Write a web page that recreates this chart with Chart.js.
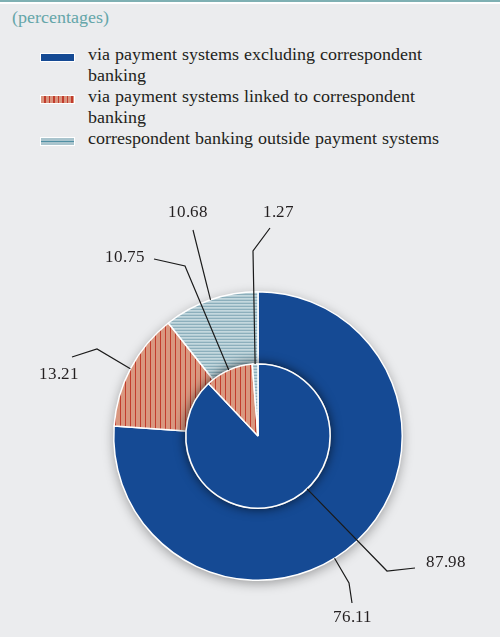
<!DOCTYPE html>
<html>
<head>
<meta charset="utf-8">
<style>
  @font-face { font-family: "LabelSerif"; src: local("Liberation Serif"), local("LiberationSerif"), local("Times New Roman"), local("Tinos"); }
  html, body { margin: 0; padding: 0; }
  body {
    width: 500px; height: 637px; position: relative; overflow: hidden;
    background: #ebecee;
    color: #231f20;
    font-family: "LabelSerif", "Liberation Serif", serif;
  }
  #topline { position: absolute; left: 0; top: 0; width: 500px; height: 2px; background: #7fb0b3; border-bottom: 2px solid #ffffff; }
  #title { position: absolute; left: 12px; top: 7px; font-size: 17.5px; color: #65a6a9; }
  #legend { position: absolute; left: 0; top: 44px; width: 500px; }
  .row { position: relative; padding-left: 88px; font-size: 17.5px; line-height: 21px; }
  .swatch { position: absolute; left: 40px; top: 9px; width: 33px; height: 7px; border: 1px solid #ffffff; box-sizing: content-box; }
  .s0 { background: #154a94; }
  .s1 { background: repeating-linear-gradient(90deg, #d9957f 0 3px, #c13b2c 3px 4.5px); }
  .s2 { background: linear-gradient(180deg, #a9c4cd 0 3px, #4f8fa3 3px 4px, #a9c4cd 4px); }
  #wrap { position: absolute; left: 0; top: 170px; width: 500px; height: 467px; }
</style>
</head>
<body>
<div id="topline"></div>
<div id="title" style="font-family: LabelSerif, 'Liberation Serif', serif !important">(percentages)</div>
<div id="legend"></div>
<div id="wrap"><canvas id="pieChart"></canvas></div>
<script src="https://cdn.jsdelivr.net/npm/chart.js@4/dist/chart.umd.min.js"></script>
<script>
// shares of transactions, outer ring and inner pie
const categories = [
  ["via payment systems excluding correspondent", "banking"],
  ["via payment systems linked to correspondent", "banking"],
  ["correspondent banking outside payment systems"]
];
const outerValues = [76.11, 13.21, 10.68];
const innerValues = [87.98, 10.75, 1.27];

const serif = 'LabelSerif, "Liberation Serif", serif';

// legend rows
const legend = document.getElementById("legend");
categories.forEach(function (lines, i) {
  const row = document.createElement("div");
  row.className = "row";
  row.style.setProperty("font-family", serif, "important");
  row.innerHTML = '<span class="swatch s' + i + '"></span>' + lines.join("<br>");
  legend.appendChild(row);
});

function makePattern(w, h, draw) {
  const c = document.createElement("canvas");
  c.width = w;
  c.height = h;
  const g = c.getContext("2d");
  draw(g);
  return g.createPattern(c, "repeat");
}

const blue = "#154a94";
const redStripes = makePattern(5, 1, function (g) {
  g.fillStyle = "#d9977f";
  g.fillRect(0, 0, 5, 1);
  g.fillStyle = "#c23d2d";
  g.fillRect(0, 0, 1, 1);
});
const greyLines = makePattern(1, 3, function (g) {
  g.fillStyle = "#b3ccd4";
  g.fillRect(0, 0, 1, 1);
  g.fillStyle = "#8cafbc";
  g.fillRect(0, 1, 1, 1);
  g.fillStyle = "#c4d8de";
  g.fillRect(0, 2, 1, 1);
});
const fills = [blue, redStripes, greyLines];

// value labels: which arc, where along it, leader line bends and text spot
// (offsets are relative to the pie centre)
const callouts = [
  { ds: 0, idx: 0, frac: 0.54, path: [[91, 147], [94, 167]], text: [94, 182] },
  { ds: 0, idx: 1, frac: 0.5,  path: [[-161, -87], [-186, -79]], text: [-199, -61] },
  { ds: 0, idx: 2, frac: 0.5,  path: [[-65, -206]], text: [-70, -223] },
  { ds: 1, idx: 0, frac: 0.433, path: [[129, 135], [157, 132]], text: [188, 127] },
  { ds: 1, idx: 1, frac: 0.5,  path: [[-73, -170], [-104, -177]], text: [-133, -178] },
  { ds: 1, idx: 2, frac: 0.5,  path: [[-5, -185], [12, -208]], text: [20, -223] }
];

const shadows = {
  id: "shadows",
  beforeDatasetsDraw(chart) {
    const arc = chart.getDatasetMeta(0).data[0];
    const ctx = chart.ctx;
    ctx.save();
    ctx.shadowColor = "rgba(0,0,0,0.35)";
    ctx.shadowBlur = 12;
    ctx.shadowOffsetY = 3;
    ctx.fillStyle = "#ebecee";
    ctx.beginPath();
    ctx.arc(arc.x, arc.y, arc.outerRadius, 0, Math.PI * 2);
    ctx.fill();
    ctx.restore();
  },
  beforeDatasetDraw(chart, args) {
    if (args.index !== 1) return;
    const arc = chart.getDatasetMeta(1).data[0];
    const ctx = chart.ctx;
    ctx.save();
    ctx.shadowColor = "rgba(0,0,0,0.75)";
    ctx.shadowBlur = 12;
    ctx.fillStyle = blue;
    ctx.beginPath();
    ctx.arc(arc.x, arc.y, arc.outerRadius, 0, Math.PI * 2);
    ctx.fill();
    ctx.restore();
  }
};

const valueLabels = {
  id: "valueLabels",
  afterDatasetsDraw(chart) {
    const ctx = chart.ctx;
    ctx.save();
    ctx.strokeStyle = "#1a1a1a";
    ctx.lineWidth = 1.2;
    ctx.fillStyle = "#231f20";
    ctx.font = "17px " + serif;
    ctx.textAlign = "center";
    ctx.textBaseline = "middle";
    callouts.forEach(function (c) {
      const arc = chart.getDatasetMeta(c.ds).data[c.idx];
      const a = arc.startAngle + c.frac * (arc.endAngle - arc.startAngle);
      const cx = arc.x, cy = arc.y;
      ctx.beginPath();
      ctx.moveTo(cx + Math.cos(a) * arc.outerRadius, cy + Math.sin(a) * arc.outerRadius);
      c.path.forEach(function (p) { ctx.lineTo(cx + p[0], cy + p[1]); });
      ctx.stroke();
      const v = chart.data.datasets[c.ds].data[c.idx];
      ctx.fillText(v.toFixed(2), cx + c.text[0], cy + c.text[1]);
    });
    ctx.restore();
  }
};

function drawPie() {
  new Chart(document.getElementById("pieChart"), {
    type: "pie",
    data: {
      labels: categories.map(function (l) { return l.join(" "); }),
      datasets: [{
        data: outerValues,
        backgroundColor: fills,
        borderColor: "#ffffff",
        borderWidth: 1.5,
        order: 1
      }, {
        data: innerValues,
        backgroundColor: fills,
        borderColor: "#ffffff",
        borderWidth: 1.5,
        order: 0
      }]
    },
    options: {
      responsive: true,
      maintainAspectRatio: false,
      animation: false,
      events: [],
      layout: { padding: { left: 113, right: 97, top: 121, bottom: 56 } },
      plugins: {
        legend: { display: false },
        tooltip: { enabled: false }
      }
    },
    plugins: [shadows, valueLabels]
  });
}
// make sure the serif face is ready before the canvas text is drawn
document.fonts.load("17px LabelSerif").then(drawPie, drawPie);
</script>
</body>
</html>
